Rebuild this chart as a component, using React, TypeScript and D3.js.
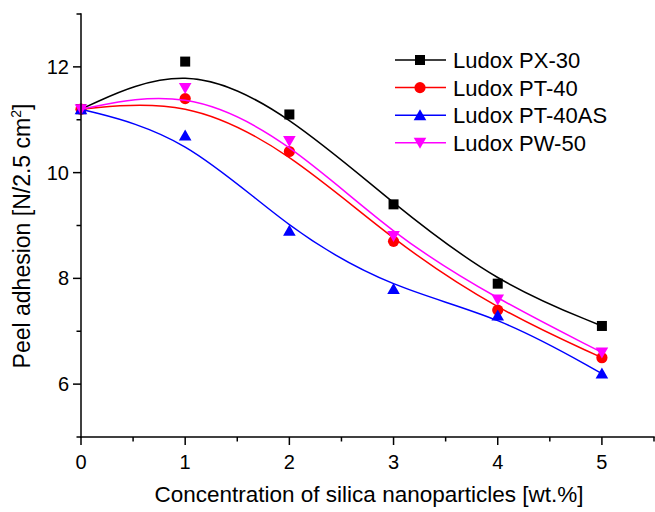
import React from "react";
import * as d3 from "d3";

const xValues = [0, 1, 2, 3, 4, 5];
const px30 = [11.2, 12.1, 11.1, 9.4, 7.9, 7.1];
const pt40 = [11.2, 11.4, 10.4, 8.7, 7.4, 6.5];
const pt40as = [11.2, 10.7, 8.9, 7.8, 7.3, 6.2];
const pw50 = [11.2, 11.6, 10.6, 8.8, 7.6, 6.6];
const seriesNames = ["Ludox PX-30", "Ludox PT-40", "Ludox PT-40AS", "Ludox PW-50"];
const seriesColors = ["#000000", "#ff0000", "#0000ff", "#ff00ff"];
const seriesShapes = ["square", "circle", "triUp", "triDown"];
const xTicks = [0, 1, 2, 3, 4, 5];
const yTicks = [6, 8, 10, 12];

const W = 655, H = 512;
const FONT = "Liberation Sans, Arial, sans-serif";

function Marker({ shape, cx, cy, color }: { shape: string; cx: number; cy: number; color: string }) {
  if (shape === "square") return <rect x={cx - 5} y={cy - 5} width={10} height={10} fill={color} />;
  if (shape === "circle") return <circle cx={cx} cy={cy} r={5.6} fill={color} />;
  if (shape === "triUp")
    return <path d={`M${cx},${cy - 6}L${cx + 6.3},${cy + 5}L${cx - 6.3},${cy + 5}Z`} fill={color} />;
  return <path d={`M${cx},${cy + 6}L${cx + 6.3},${cy - 5}L${cx - 6.3},${cy - 5}Z`} fill={color} />;
}

export default function App() {
  const x = d3.scaleLinear().domain([0, 5.5]).range([81, 654]);
  const y = d3.scaleLinear().domain([5, 13]).range([437, 14]);
  const all = [px30, pt40, pt40as, pw50];
  const line = d3
    .line<number>()
    .x((_, i) => x(xValues[i]))
    .y((d) => y(d))
    .curve(d3.curveBasis);
  const xMinor = d3.range(0, 5.51, 0.5).filter((v) => !xTicks.includes(v));
  const yMinor = [5, 7, 9, 11, 13];
  const x0 = x(0), yb = y(5);
  return (
    <svg width={W} height={H} style={{ position: "absolute", left: 0, top: 0 }} fontFamily={FONT}>
      <rect width={W} height={H} fill="#fff" />
      {all.map((s, k) => (
        <g key={k}>
          <path d={line(s) || ""} fill="none" stroke={seriesColors[k]} strokeWidth={1.5} />
          {s.map((v, i) => (
            <Marker key={i} shape={seriesShapes[k]} cx={x(xValues[i])} cy={y(v)} color={seriesColors[k]} />
          ))}
        </g>
      ))}
      {/* axes */}
      <g stroke="#000" strokeWidth={1.5}>
        <line x1={x0} x2={x0} y1={y(13) - 0.75} y2={yb + 0.75} />
        <line x1={x0 - 0.75} x2={x(5.5) + 0.75} y1={yb} y2={yb} />
        {xTicks.map((t) => (
          <line key={t} x1={x(t)} x2={x(t)} y1={yb} y2={yb + 8} />
        ))}
        {xMinor.map((t) => (
          <line key={t} x1={x(t)} x2={x(t)} y1={yb} y2={yb + 4.5} />
        ))}
        {yTicks.map((t) => (
          <line key={t} x1={x0 - 8} x2={x0} y1={y(t)} y2={y(t)} />
        ))}
        {yMinor.map((t) => (
          <line key={t} x1={x0 - 4.5} x2={x0} y1={y(t)} y2={y(t)} />
        ))}
      </g>
      {xTicks.map((t) => (
        <text key={t} x={x(t)} y={yb + 32} fontSize={20} textAnchor="middle">
          {t}
        </text>
      ))}
      {yTicks.map((t) => (
        <text key={t} x={x0 - 12} y={y(t) + 7} fontSize={20} textAnchor="end">
          {t}
        </text>
      ))}
      <text x={369} y={502} fontSize={22.5} textAnchor="middle">
        Concentration of silica nanoparticles [wt.%]
      </text>
      <text transform="translate(30,236) rotate(-90)" fontSize={23} textAnchor="middle">
        Peel adhesion [N/2.5 cm<tspan fontSize={14} dy={-9}>2</tspan>
        <tspan dy={9}>]</tspan>
      </text>
      {/* legend */}
      {seriesNames.map((n, k) => {
        const ly = 60 + k * 27.6;
        return (
          <g key={n}>
            <line x1={395} x2={446} y1={ly} y2={ly} stroke={seriesColors[k]} strokeWidth={1.5} />
            <Marker shape={seriesShapes[k]} cx={420} cy={ly} color={seriesColors[k]} />
            <text x={453} y={ly + 8} fontSize={22}>
              {n}
            </text>
          </g>
        );
      })}
    </svg>
  );
}
